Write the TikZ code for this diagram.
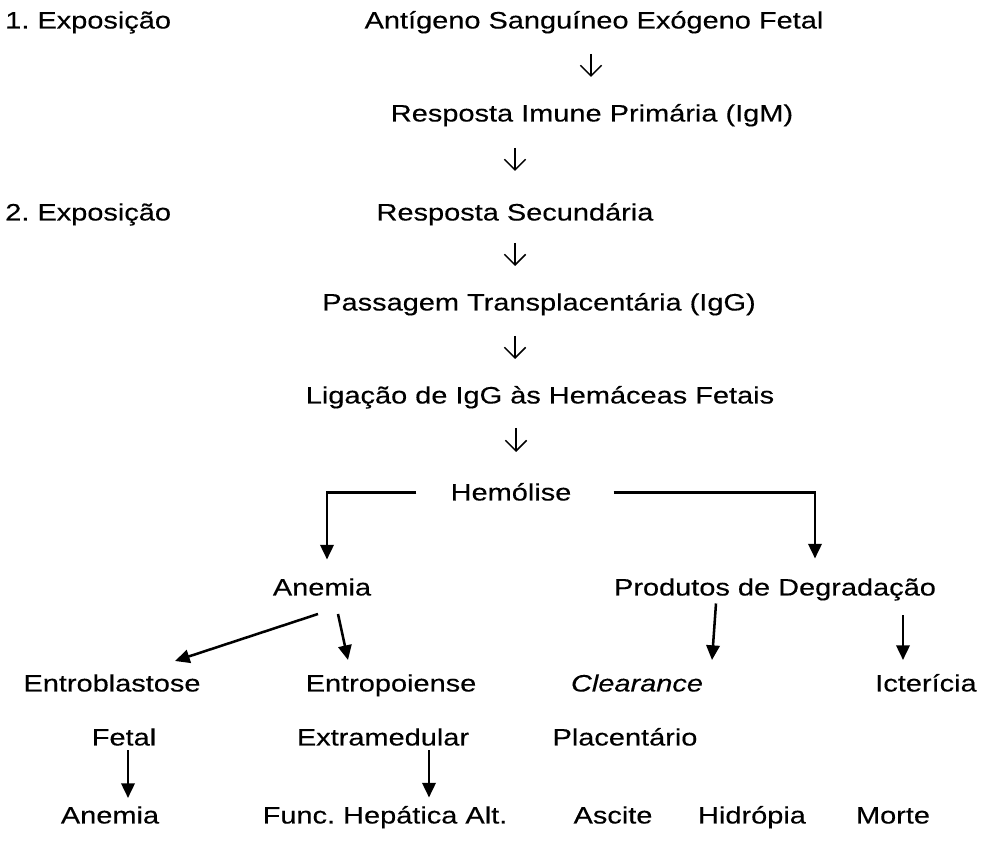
\documentclass[tikz,border=0pt]{standalone}
\usepackage{fontspec}
\setmainfont{Liberation Sans}[FakeStretch=1.22, FakeBold=0.3]
\frenchspacing
\usetikzlibrary{positioning}
\usetikzlibrary{calc}
\usetikzlibrary{arrows.meta}

\begin{document}
\begin{tikzpicture}[x=0.75pt, y=-0.75pt, font=\fontsize{17.8}{20}\selectfont,
    txt/.style={inner sep=0pt, anchor=base},
    seta/.style={line width=1.1pt, -{Straight Barb[length=8pt,width=16pt]}},
    ramo/.style={line width=1.9pt, -{Triangle[length=11pt,width=10pt]}}]
  \useasboundingbox (0,0) rectangle (983,841);

  % exposicoes
  \node[txt, anchor=base west] (exp1) at (5,28.5) {1. Exposição};
  \node[txt, anchor=base west] (exp2) at (5,220.5) {2. Exposição};

  % coluna central
  \node[txt] (ant) at (594,28.5) {Antígeno Sanguíneo Exógeno Fetal};
  \node[txt] (prim) at (592,121.5) {Resposta Imune Primária (IgM)};
  \node[txt] (sec) at (515,220.5) {Resposta Secundária};
  \node[txt] (pass) at (539,310.5) {Passagem Transplacentária (IgG)};
  \node[txt] (lig) at (540,403.5) {Ligação de IgG às Hemáceas Fetais};
  \node[txt] (hem) at (511,500.5) {Hemólise};

  \draw[seta] ($(ant.base)+(-3,25.5)$) -- ($(prim.base)+(-1,-44.5)$);
  \draw[seta] ($(prim.base)+(-77,26.5)$) -- ($(sec.base)+(0,-49.5)$);
  \draw[seta] ($(sec.base)+(0,22.5)$) -- ($(pass.base)+(-24,-44.5)$);
  \draw[seta] ($(pass.base)+(-24,25.5)$) -- ($(lig.base)+(-25,-44.5)$);
  \draw[seta] ($(lig.base)+(-24,24.5)$) -- ($(hem.base)+(5,-48.5)$);

  % ramos
  \node[txt] (anem) at (322,595.5) {Anemia};
  \node[txt] (prod) at (775,595.5) {Produtos de Degradação};

  \draw[ramo] ($(hem.base west)+(-34,-8)$) -| ($(anem.base)+(5,-36)$);
  \draw[ramo] ($(hem.base east)+(42,-8)$) -| ($(prod.base)+(40,-37)$);

  \node[txt] (erit) at (112,691.5) {Entroblastose};
  \node[txt] (fetal) at (124,745.5) {Fetal};
  \node[txt] (eritp) at (391,691.5) {Entropoiense};
  \node[txt] (extra) at (383,745.5) {Extramedular};
  \node[txt] (clear) at (637,691.5) {\itshape Clearance};
  \node[txt] (plac) at (625,745.5) {Placentário};
  \node[txt] (ict) at (926,691.5) {Icterícia};

  \draw[ramo] ($(anem.base)+(-4,18.5)$) -- ($(erit.base)+(63,-30.5)$);
  \draw[ramo] ($(anem.base)+(16,18.5)$) -- ($(eritp.base)+(-43,-31.5)$);
  \draw[ramo] ($(prod.base)+(-59,8)$) -- ($(clear.base)+(75,-31.5)$);
  \draw[ramo] ($(prod.base)+(128,20)$) -- ($(ict.base)+(-23,-31.5)$);

  % ultima linha
  \node[txt] (anem2) at (110,823.5) {Anemia};
  \node[txt] (func) at (385,823.5) {Func. Hepática Alt.};
  \node[txt] (asc) at (613,823.5) {Ascite};
  \node[txt] (hid) at (752,823.5) {Hidrópia};
  \node[txt] (morte) at (893,823.5) {Morte};

  \draw[ramo] ($(fetal.base)+(4,5)$) -- ($(anem2.base)+(18,-25.5)$);
  \draw[ramo] ($(extra.base)+(46,5)$) -- ($(func.base)+(44,-26)$);
\end{tikzpicture}
\end{document}
